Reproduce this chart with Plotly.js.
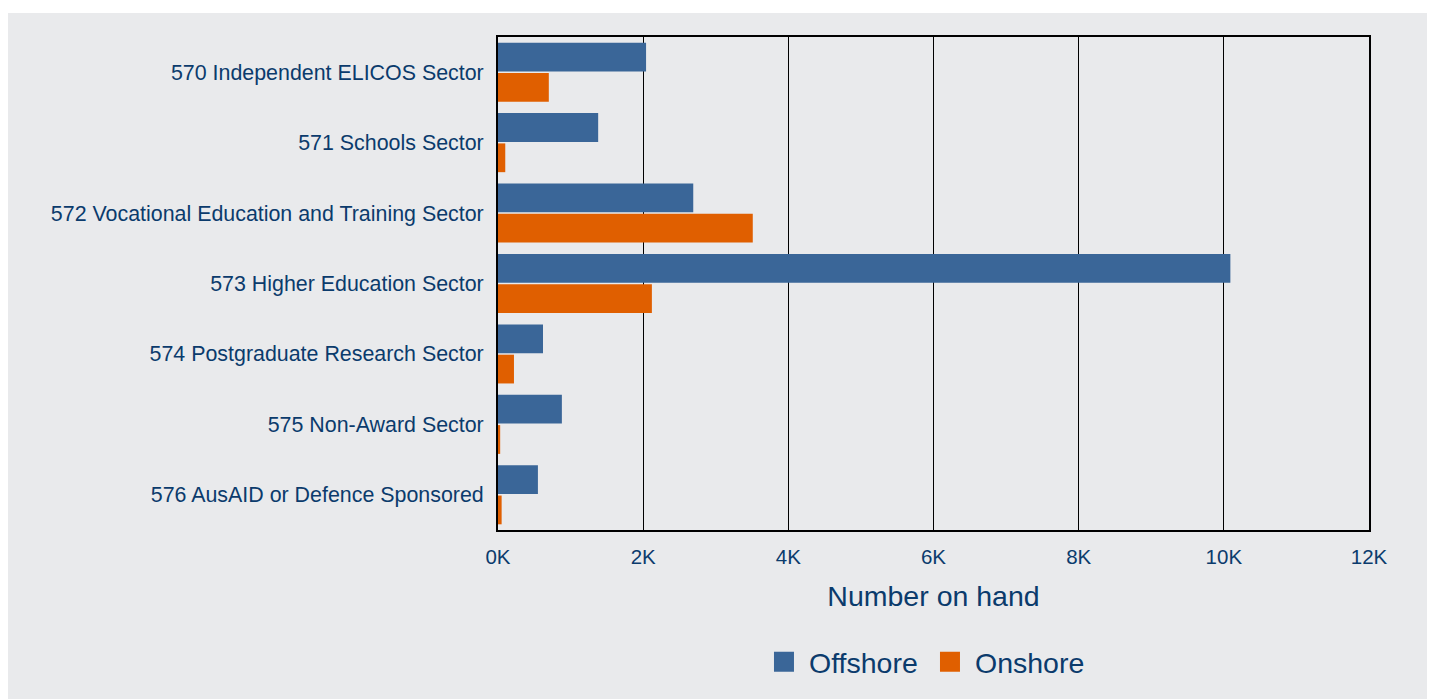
<!DOCTYPE html>
<html>
<head>
<meta charset="utf-8">
<script src="https://cdn.plot.ly/plotly-3.0.1.min.js"></script>
<style>
html,body{margin:0;padding:0;background:#ffffff;}
#chart{position:absolute;left:8px;top:13px;width:1419px;height:686px;}
</style>
</head>
<body>
<div id="chart"></div>
<script>
const categories = [
  "570 Independent ELICOS Sector",
  "571 Schools Sector",
  "572 Vocational Education and Training Sector",
  "573 Higher Education Sector",
  "574 Postgraduate Research Sector",
  "575 Non-Award Sector",
  "576 AusAID or Defence Sponsored"
];
const offshore = [2040, 1380, 2690, 10090, 620, 880, 550];
const onshore  = [700, 100, 3510, 2120, 220, 30, 50];
const xTickVals = [0, 2000, 4000, 6000, 8000, 10000, 12000];
const xTickText = ["0K", "2K", "4K", "6K", "8K", "10K", "12K"];

const textColor = "#0b3b6c";
const bg = "#e9eaec";

const traces = [
  {type: "bar", orientation: "h", name: "Offshore", y: categories, x: offshore,
   marker: {color: "#3a6698"}},
  {type: "bar", orientation: "h", name: "Onshore", y: categories, x: onshore,
   marker: {color: "#e05f00"}}
];

const layout = {
  width: 1419, height: 686,
  paper_bgcolor: bg, plot_bgcolor: bg,
  margin: {l: 490, r: 58, t: 24, b: 167},
  barmode: "group", bargap: 0.14, bargroupgap: 0.05,
  font: {family: "Liberation Sans, Arial, sans-serif", color: textColor, size: 21},
  xaxis: {
    range: [0, 12000], tickvals: xTickVals, ticktext: xTickText,
    showgrid: true, gridcolor: "#000000", gridwidth: 1,
    showline: true, linecolor: "#000000", linewidth: 2, mirror: true,
    zeroline: false, ticks: "outside", ticklen: 7, tickcolor: bg,
    tickfont: {size: 20.5, color: textColor},
    title: {text: "Number on hand", font: {size: 28.5, color: textColor}, standoff: 19}
  },
  yaxis: {
    autorange: "reversed", showgrid: false,
    showline: true, linecolor: "#000000", linewidth: 2, mirror: true,
    ticks: "outside", ticklen: 8, tickcolor: bg,
    tickfont: {size: 21.4, color: textColor}
  },
  legend: {orientation: "h", x: 0.5017, xanchor: "center", y: -0.268, yanchor: "middle",
    font: {size: 28.5, color: textColor}, traceorder: "normal", bgcolor: "rgba(0,0,0,0)",
    itemwidth: 30, entrywidth: 121, entrywidthmode: "pixels"},
  showlegend: true
};

Plotly.newPlot("chart", traces, layout, {displayModeBar: false, staticPlot: true}).then(function () {
  document.querySelectorAll(".legend .legendpoints path").forEach(function (p) {
    const d = (p.getAttribute("d") || "").replace(/\s/g, "");
    if (d === "M6,6H-6V-6H6Z") {
      p.setAttribute("d", "M5,10H-15V-10H5Z");
    }
  });
});
</script>
</body>
</html>
